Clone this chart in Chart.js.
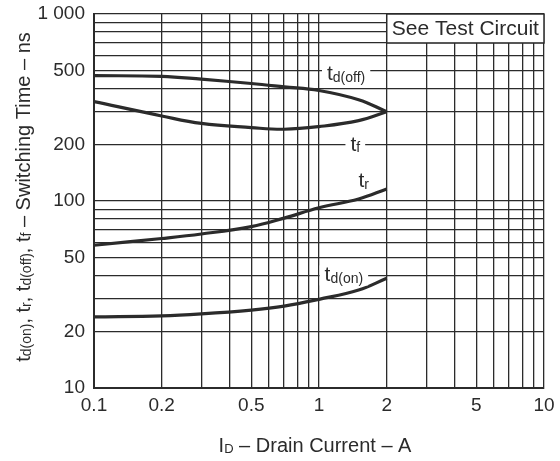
<!DOCTYPE html>
<html>
<head>
<meta charset="utf-8">
<script src="https://cdn.jsdelivr.net/npm/chart.js@4"></script>
<style>
  html, body { margin: 0; padding: 0; background: #fff; }
  #wrap { width: 560px; height: 461px; }
</style>
</head>
<body>
<div id="wrap"><canvas id="swChart"></canvas></div>
<script>
// drain current (A) sample points, shared by all curves
const current = [0.1, 0.2, 0.3, 0.5, 0.7, 1, 1.5, 2];
// switching times (ns)
const tdOff = [468, 464, 448, 425, 408, 390, 348, 300];
const tFall = [340, 285, 260, 247, 242, 250, 269, 300];
const tRise = [58, 63, 66.6, 73, 81, 92, 102.5, 116];
const tdOn  = [24, 24.3, 24.9, 26.1, 27.4, 29.8, 33.4, 38.6];

// grid lines and labelled ticks
const xGrid = [0.1,0.2,0.3,0.4,0.5,0.6,0.7,0.8,0.9,1,2,3,4,5,6,7,8,9,10];
const xLabels = [0.1, 0.2, 0.5, 1, 2, 5, 10];
const yGrid = [10,20,30,40,50,60,70,80,90,100,200,300,400,500,600,700,800,900,1000];
const yLabels = [10, 20, 50, 100, 200, 500, 1000];

// curve labels: [main, subscript, x, y, white box]
const curveNames = [
  ["t", "d(off)", 1.32, 478, true],
  ["t", "f", 1.45, 200, true],
  ["t", "r", 1.58, 128, false],
  ["t", "d(on)", 1.29, 40, true]
];

const ink = "#2b2b2b";
const FONT = "'Liberation Sans', Arial, sans-serif";

function pts(ys) {
  return current.map((x, i) => ({ x: x, y: ys[i] }));
}

function line(label, ys) {
  return {
    label: label,
    data: pts(ys),
    borderColor: ink,
    borderWidth: 3.2,
    pointRadius: 0,
    fill: false,
    tension: 0.4
  };
}

// draws a "main + subscript" run, returns width
function subText(ctx, main, sub, x, y, size, subSize, measureOnly) {
  ctx.font = size + "px " + FONT;
  const w1 = ctx.measureText(main).width;
  ctx.font = subSize + "px " + FONT;
  const w2 = ctx.measureText(sub).width;
  if (!measureOnly) {
    ctx.font = size + "px " + FONT;
    ctx.fillText(main, x, y);
    ctx.font = subSize + "px " + FONT;
    ctx.fillText(sub, x + w1, y + size * 0.18);
  }
  return w1 + w2;
}

const decor = {
  id: "decor",
  afterDatasetsDraw(chart) {
    const ctx = chart.ctx;
    const xs = chart.scales.x, ys = chart.scales.y;
    const area = chart.chartArea;
    ctx.save();
    ctx.textBaseline = "middle";
    ctx.textAlign = "left";
    ctx.fillStyle = ink;

    // "See Test Circuit" box
    const bx = xs.getPixelForValue(2), by = ys.getPixelForValue(700);
    ctx.fillStyle = "#fff";
    ctx.fillRect(bx, area.top, area.right - bx, by - area.top);
    ctx.strokeStyle = ink;
    ctx.lineWidth = 1.5;
    ctx.strokeRect(bx, area.top, area.right - bx, by - area.top);
    ctx.fillStyle = ink;
    ctx.font = "21px " + FONT;
    ctx.textAlign = "center";
    ctx.fillText("See Test Circuit", (bx + area.right) / 2, (area.top + by) / 2 + 1);
    ctx.textAlign = "left";

    // curve labels
    curveNames.forEach(([m, s, xv, yv, box]) => {
      const w = subText(ctx, m, s, 0, 0, 21, 14, true);
      const cx = xs.getPixelForValue(xv), cy = ys.getPixelForValue(yv);
      if (box) {
        ctx.fillStyle = "#fff";
        ctx.fillRect(cx - w / 2 - 5, cy - 10, w + 10, 20);
      }
      ctx.fillStyle = ink;
      subText(ctx, m, s, cx - w / 2, cy, 21, 14, false);
    });

    // x-axis title
    const xt = ["I", "D", " \u2013 Drain Current \u2013 A"];
    ctx.font = "20px " + FONT;
    const a = ctx.measureText(xt[0]).width;
    ctx.font = "13px " + FONT;
    const b = ctx.measureText(xt[1]).width;
    ctx.font = "20px " + FONT;
    const c = ctx.measureText(xt[2]).width;
    let x0 = (area.left + area.right) / 2 - 4 - (a + b + c) / 2;
    const yT = 446;
    ctx.fillText(xt[0], x0, yT);
    ctx.font = "13px " + FONT;
    ctx.fillText(xt[1], x0 + a, yT + 3);
    ctx.font = "20px " + FONT;
    ctx.fillText(xt[2], x0 + a + b, yT);

    // y-axis title, rotated
    const parts = [
      ["t", "d(on)"], [", t", "r"], [", t", "d(off)"], [", t", "f"],
      [" \u2013 Switching Time \u2013 ns", ""]
    ];
    let total = 0;
    parts.forEach(([m, s]) => { total += subText(ctx, m, s, 0, 0, 20, 14, true); });
    ctx.translate(24, 197);
    ctx.rotate(-Math.PI / 2);
    let px = -total / 2;
    parts.forEach(([m, s]) => { px += subText(ctx, m, s, px, 0, 20, 14, false); });
    ctx.restore();
  }
};

const tickFont = { family: FONT, size: 19 };

new Chart(document.getElementById("swChart"), {
  type: "line",
  data: {
    datasets: [
      line("td(off)", tdOff),
      line("tf", tFall),
      line("tr", tRise),
      line("td(on)", tdOn)
    ]
  },
  options: {
    responsive: true,
    maintainAspectRatio: false,
    animation: false,
    layout: { padding: { left: 0, right: 16, top: 14, bottom: 0 } },
    plugins: { legend: { display: false }, tooltip: { enabled: false } },
    scales: {
      x: {
        type: "logarithmic",
        min: 0.1,
        max: 10,
        afterBuildTicks: (s) => { s.ticks = xGrid.map(v => ({ value: v })); },
        afterFit: (s) => {
          s.height = 73;
          s.paddingLeft = 0; s.paddingRight = 0;
        },
        border: { color: ink, width: 2 },
        grid: { color: ink, lineWidth: 1.3, drawTicks: false },
        ticks: {
          autoSkip: false,
          maxRotation: 0,
          padding: 6,
          color: ink,
          font: tickFont,
          callback: (v) => xLabels.includes(v) ? String(v) : ""
        }
      },
      y: {
        type: "logarithmic",
        min: 10,
        max: 1000,
        afterBuildTicks: (s) => { s.ticks = yGrid.map(v => ({ value: v })); },
        afterFit: (s) => {
          s.width = 94;
          s.paddingTop = 0; s.paddingBottom = 0;
        },
        border: { color: ink, width: 2 },
        grid: { color: ink, lineWidth: 1.3, drawTicks: false },
        ticks: {
          autoSkip: false,
          padding: 9,
          color: ink,
          font: tickFont,
          callback: (v) => yLabels.includes(v) ? (v === 1000 ? "1 000" : String(v)) : ""
        }
      }
    }
  },
  plugins: [decor]
});
</script>
</body>
</html>
